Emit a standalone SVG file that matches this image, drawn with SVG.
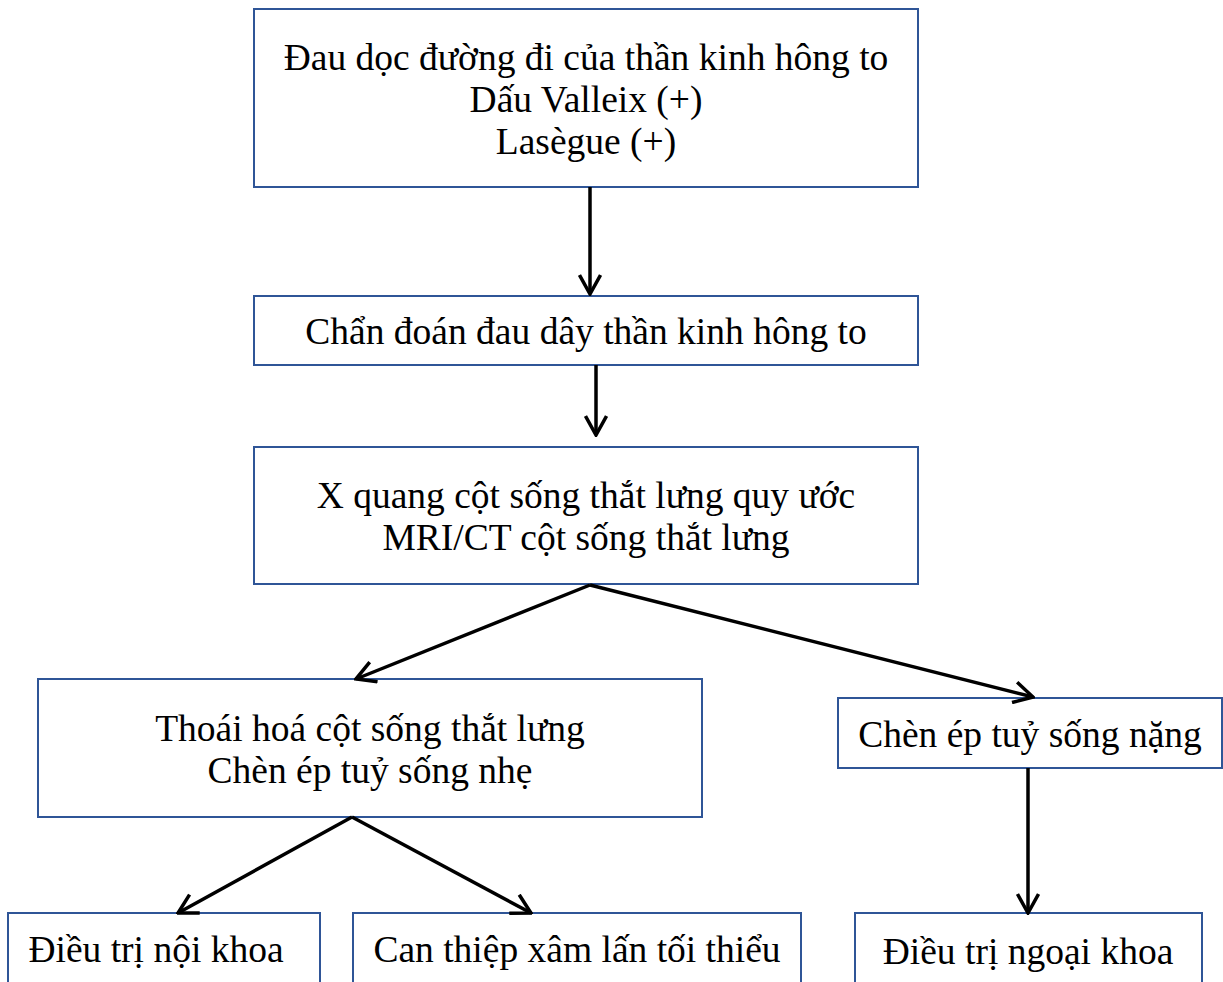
<svg xmlns="http://www.w3.org/2000/svg" width="1223" height="982" viewBox="0 0 1223 982">
<style>
.box{fill:#fff;stroke:#2F5597;stroke-width:2}
.t{font-family:"Liberation Serif","Times New Roman",serif;font-size:37.5px;fill:#000;text-anchor:middle}
.c{stroke:#000;stroke-width:3.5;fill:none}
</style>
<defs>
<marker id="ah" viewBox="0 0 24 24" refX="22" refY="12" markerWidth="24" markerHeight="24" markerUnits="userSpaceOnUse" orient="auto">
<path d="M3,1.5 L22,12 L3,22.5" fill="none" stroke="#000" stroke-width="3.5"/>
</marker>
</defs>
<rect width="1223" height="982" fill="#fff"/>
<g id="n1"><rect class="box" x="254" y="9" width="664" height="178"/>
<text class="t" x="586" y="70">Đau dọc đường đi của thần kinh hông to</text>
<text class="t" x="586" y="112">Dấu Valleix (+)</text>
<text class="t" x="586" y="154">Lasègue (+)</text></g>
<g id="n2"><rect class="box" x="254" y="296" width="664" height="69"/>
<text class="t" x="586" y="344">Chẩn đoán đau dây thần kinh hông to</text></g>
<g id="n3"><rect class="box" x="254" y="447" width="664" height="137"/>
<text class="t" x="586" y="508">X quang cột sống thắt lưng quy ước</text>
<text class="t" x="586" y="550">MRI/CT cột sống thắt lưng</text></g>
<g id="n4"><rect class="box" x="38" y="679" width="664" height="138"/>
<text class="t" x="370" y="741">Thoái hoá cột sống thắt lưng</text>
<text class="t" x="370" y="783">Chèn ép tuỷ sống nhẹ</text></g>
<g id="n5"><rect class="box" x="838" y="698" width="384" height="70"/>
<text class="t" x="1030" y="747">Chèn ép tuỷ sống nặng</text></g>
<g id="n6"><rect class="box" x="8" y="913" width="312" height="80"/>
<text class="t" x="156" y="962">Điều trị nội khoa</text></g>
<g id="n7"><rect class="box" x="353" y="913" width="448" height="80"/>
<text class="t" x="577" y="962">Can thiệp xâm lấn tối thiểu</text></g>
<g id="n8"><rect class="box" x="855" y="913" width="347" height="80"/>
<text class="t" x="1028" y="964">Điều trị ngoại khoa</text></g>
<g id="connectors">
<line class="c" x1="590" y1="187" x2="590" y2="294" marker-end="url(#ah)"/>
<line class="c" x1="596" y1="365" x2="596" y2="435" marker-end="url(#ah)"/>
<line class="c" x1="590" y1="585" x2="356" y2="679" marker-end="url(#ah)"/>
<line class="c" x1="590" y1="585" x2="1033" y2="697" marker-end="url(#ah)"/>
<line class="c" x1="352" y1="817" x2="178" y2="913" marker-end="url(#ah)"/>
<line class="c" x1="352" y1="817" x2="531" y2="913" marker-end="url(#ah)"/>
<line class="c" x1="1028" y1="768" x2="1028" y2="913" marker-end="url(#ah)"/>
</g>
</svg>
